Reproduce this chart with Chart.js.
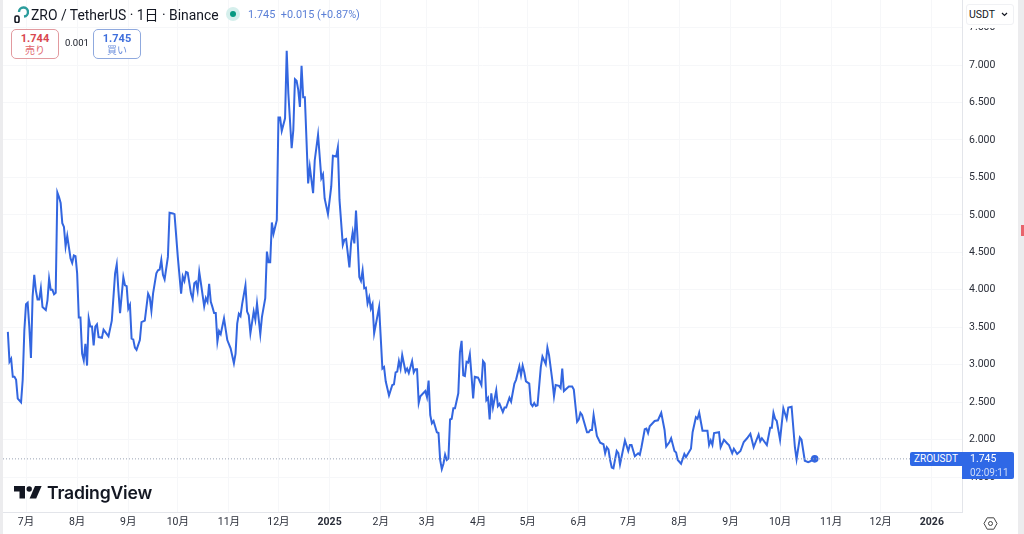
<!DOCTYPE html>
<html lang="ja">
<head>
<meta charset="utf-8">
<title>ZRO / TetherUS</title>
<script src="https://cdn.jsdelivr.net/npm/chart.js@4"></script>
<style>
  html, body { margin: 0; padding: 0; background: #fff; }
  body { width: 1024px; height: 534px; overflow: hidden; position: relative; font-family: Roboto, "Noto Sans CJK JP", sans-serif; color: #131722; }
  canvas { position: absolute; left: 0; top: 0; }
  .abs { position: absolute; white-space: nowrap; }
  .strip { position: absolute; top: 0; bottom: 0; background: #ececee; }
  .quote { position: absolute; top: 29px; width: 46px; height: 26px; padding-top: 2px; background: #fff; border: 1px solid; border-radius: 5px; text-align: center; font-size: 10px; line-height: 12px; }
  .quote b { display: block; font-size: 11px; line-height: 13px; font-weight: 700; }
</style>
</head>
<body>
<canvas id="priceChart" width="1024" height="534"></canvas>

<div class="strip" style="left:0;width:3px"></div>
<div class="strip" style="left:1018px;width:6px"></div>
<div class="abs" style="left:1021px;top:225px;width:3px;height:11px;background:#e8636b"></div>

<!-- header -->
<svg class="abs" style="left:13px;top:6px" width="16" height="17" viewBox="0 0 16 17">
  <path d="M6 6 A4.5 4.5 0 1 1 11 10.5" fill="none" stroke="#2b9c9c" stroke-width="2.4"/>
  <rect x="2" y="10" width="4" height="6.5" rx="1.6" fill="none" stroke="#131722" stroke-width="1.6"/>
</svg>
<div class="abs" style="left:31px;top:7px;font-size:13.9px;line-height:16px">ZRO / TetherUS · 1日 · Binance</div>
<div class="abs" style="left:226px;top:7px;width:14px;height:14px;border-radius:50%;background:#d5efec"></div>
<div class="abs" style="left:230px;top:11px;width:6px;height:6px;border-radius:50%;background:#089981"></div>
<div class="abs" style="left:248px;top:8px;font-size:10.9px;line-height:14px;color:#5a7fd6">1.745&nbsp; +0.015 (+0.87%)</div>

<div class="quote" style="left:11px;border-color:#e29a9f;color:#e0666d"><b style="color:#d9474f">1.744</b>売り</div>
<div class="abs" style="left:65px;top:37px;font-size:9.5px;line-height:12px">0.001</div>
<div class="quote" style="left:93px;border-color:#8fa9de;color:#6c8fdc"><b style="color:#3f6fdc">1.745</b>買い</div>

<!-- currency box sits over the clipped top tick -->
<div class="abs" style="left:963px;top:0;width:55px;height:28px;background:#fff"></div>
<div class="abs" style="left:966px;top:4px;width:48px;height:21px;box-sizing:border-box;border:1px solid #f0f1f4;border-radius:3px;font-size:10.5px;line-height:19px;padding-left:2px">USDT
  <svg style="position:absolute;right:5px;top:7px" width="7" height="5" viewBox="0 0 7 5"><path d="M1 1 L3.5 3.5 L6 1" fill="none" stroke="#131722" stroke-width="1.2"/></svg>
</div>

<!-- last price labels -->
<div class="abs" style="left:910px;top:452px;width:52px;height:14px;background:#2f68e6;border-radius:2px 0 0 2px;color:#fff;font-size:10px;line-height:14px;text-align:center">ZROUSDT</div>
<div class="abs" style="left:962px;top:452px;width:52px;height:27px;background:#2f68e6;border-radius:0 2px 2px 0;color:#fff;font-size:10.5px;line-height:13.5px;padding-left:8px;box-sizing:border-box">1.745<br><span style="color:#cfdcf8;font-size:10px">02:09:11</span></div>

<!-- logo -->
<svg class="abs" style="left:14px;top:486px" width="28" height="13" viewBox="0 0 28 13">
  <path d="M0 0 H11 V12.5 H5.5 V5.5 H0 Z" fill="#131722"/>
  <circle cx="15.2" cy="3" r="2.7" fill="#131722"/>
  <path d="M21 0 H27.6 L22.2 12.5 H15.6 Z" fill="#131722"/>
</svg>
<div class="abs" style="left:47px;top:482px;font-family:Inter,Roboto,sans-serif;font-size:17.6px;line-height:22px;font-weight:600;letter-spacing:-.2px;color:#131722">TradingView</div>

<!-- settings gear -->
<svg class="abs" style="left:983px;top:516px" width="15" height="15" viewBox="0 0 15 15">
  <path d="M4.2 1.8 H10.8 L14 7.5 L10.8 13.2 H4.2 L1 7.5 Z" fill="none" stroke="#444" stroke-width="1"/>
  <circle cx="7.5" cy="7.5" r="2" fill="none" stroke="#444" stroke-width="1"/>
</svg>

<script>
// day offsets from 2024-07-01
const days = [
  -11, -10, -9, -8, -7, -6, -5, -3, -2, -1, 0, 1, 2, 3, 4, 5, 6, 7, 8, 9, 10, 12, 13, 14, 15, 16, 17, 18, 19, 20,
  21, 22, 23, 24, 25, 26, 27, 28, 29, 30, 31, 32, 33, 34, 35, 36, 37, 38, 39, 40, 41, 42, 43, 44, 46, 47, 48, 50, 52, 54,
  55, 56, 57, 59, 60, 61, 62, 63, 64, 65, 66, 67, 69, 70, 72, 73, 74, 75, 76, 77, 79, 80, 81, 82, 83, 84, 86, 87, 89, 90,
  92, 94, 95, 96, 97, 98, 100, 101, 102, 103, 104, 105, 106, 108, 109, 110, 111, 112, 113, 114, 115, 116, 117, 118, 120, 122, 124, 126, 127, 128,
  129, 130, 131, 133, 134, 135, 136, 138, 139, 140, 142, 143, 145, 146, 147, 148, 149, 150, 152, 153, 154, 155, 157, 158, 159, 161, 162, 163, 164, 165,
  166, 167, 168, 169, 171, 172, 174, 175, 177, 179, 180, 181, 183, 185, 186, 188, 189, 190, 192, 193, 194, 196, 197, 198, 199, 200, 201, 202, 203, 204,
  205, 206, 207, 208, 209, 210, 211, 214, 216, 217, 218, 220, 222, 223, 224, 225, 226, 227, 228, 230, 231, 232, 234, 235, 236, 237, 238, 239, 242, 243,
  244, 245, 246, 247, 249, 250, 251, 252, 253, 254, 255, 256, 257, 258, 259, 260, 262, 263, 264, 265, 266, 267, 268, 269, 270, 271, 272, 274, 276, 277,
  278, 279, 280, 281, 282, 283, 285, 286, 287, 289, 290, 291, 293, 294, 296, 297, 299, 300, 301, 302, 303, 305, 306, 307, 308, 309, 310, 312, 313, 315,
  316, 317, 319, 320, 321, 323, 324, 325, 326, 329, 331, 332, 334, 335, 336, 337, 340, 341, 342, 343, 344, 346, 348, 350, 351, 352, 353, 354, 355, 356,
  358, 359, 360, 363, 365, 366, 367, 369, 371, 372, 373, 375, 376, 377, 378, 381, 383, 385, 387, 388, 390, 391, 393, 394, 395, 397, 399, 400, 403, 404,
  406, 407, 408, 410, 413, 414, 415, 416, 417, 420, 421, 423, 425, 426, 428, 429, 431, 433, 435, 437, 439, 441, 444, 445, 446, 449, 451, 452, 453, 454,
  455, 457, 459, 461, 462, 464, 466, 467, 469, 470, 472, 474, 475, 478
];
const prices = [
  3.44, 3.04, 3.08, 2.84, 2.84, 2.80, 2.55, 2.50, 2.80, 3.46, 3.81, 3.83, 3.51, 3.09, 3.91, 4.20, 3.99, 3.87, 3.87, 4.02, 3.77, 3.73, 3.86, 4.15, 4.00, 4.00, 3.94, 3.96, 5.30, 5.24,
  5.16, 4.89, 4.84, 4.58, 4.72, 4.57, 4.42, 4.36, 4.46, 4.45, 4.22, 3.63, 3.63, 3.15, 3.06, 3.28, 2.99, 3.62, 3.51, 3.51, 3.26, 3.51, 3.54, 3.37, 3.36, 3.47, 3.44, 3.38, 3.59, 4.22,
  4.34, 3.99, 3.69, 4.17, 4.06, 4.05, 3.75, 3.80, 3.35, 3.34, 3.23, 3.20, 3.33, 3.57, 3.59, 3.77, 3.95, 3.90, 3.72, 3.95, 4.22, 4.26, 4.27, 4.40, 4.20, 4.14, 4.44, 5.03, 5.02, 5.01,
  4.44, 3.95, 4.18, 4.12, 4.24, 4.23, 3.95, 3.88, 4.09, 4.11, 3.99, 4.24, 4.09, 3.78, 3.89, 3.84, 4.08, 3.84, 3.77, 3.69, 3.69, 3.31, 3.45, 3.41, 3.62, 3.33, 3.22, 3.02, 3.15, 3.55,
  3.68, 3.65, 3.81, 4.06, 3.71, 3.66, 3.42, 3.71, 3.60, 3.82, 3.41, 3.64, 3.89, 4.51, 4.37, 4.37, 4.90, 4.75, 4.93, 6.30, 6.30, 6.12, 6.29, 7.19, 6.62, 5.89, 6.13, 6.81, 6.79, 6.67,
  6.44, 6.99, 6.57, 6.57, 5.42, 5.64, 5.29, 5.73, 6.07, 5.49, 5.54, 5.22, 5.01, 5.38, 5.79, 5.78, 5.90, 5.20, 4.60, 4.67, 4.68, 4.30, 4.62, 4.77, 4.62, 5.06, 4.66, 4.17, 4.12, 4.26,
  4.02, 4.03, 3.82, 3.90, 3.75, 3.81, 3.42, 3.77, 2.95, 2.97, 2.78, 2.59, 2.73, 2.74, 2.90, 2.91, 3.05, 2.95, 3.13, 2.91, 2.95, 2.89, 3.05, 2.90, 2.94, 2.94, 2.49, 2.58, 2.65, 2.57,
  2.79, 2.33, 2.22, 2.25, 2.10, 2.09, 1.73, 1.61, 1.68, 1.80, 1.73, 1.75, 2.27, 2.28, 2.42, 2.42, 2.62, 3.17, 3.32, 2.86, 2.85, 3.04, 3.03, 3.14, 2.86, 2.55, 2.84, 2.83, 2.73, 3.05,
  3.02, 2.53, 2.56, 2.27, 2.62, 2.43, 2.66, 2.45, 2.48, 2.37, 2.43, 2.43, 2.56, 2.51, 2.75, 2.80, 2.98, 2.86, 2.99, 2.90, 2.78, 2.75, 2.48, 2.45, 2.49, 2.45, 2.46, 2.97, 3.11, 3.01,
  3.23, 3.13, 2.79, 2.58, 2.73, 2.72, 2.69, 2.95, 2.65, 2.71, 2.71, 2.67, 2.24, 2.27, 2.36, 2.33, 2.10, 2.10, 2.13, 2.13, 2.33, 2.05, 1.96, 1.94, 1.82, 1.90, 1.87, 1.73, 1.63, 1.62,
  1.85, 1.82, 1.67, 1.99, 1.85, 1.93, 1.93, 1.78, 1.82, 1.80, 1.90, 2.14, 2.15, 2.09, 2.18, 2.25, 2.26, 2.36, 2.13, 1.91, 1.97, 2.02, 1.85, 1.83, 1.73, 1.68, 1.81, 1.77, 1.88, 2.10,
  2.30, 2.28, 2.36, 2.12, 2.12, 1.93, 1.99, 1.93, 2.09, 2.10, 1.90, 2.00, 1.95, 1.93, 1.82, 1.88, 1.81, 1.85, 1.97, 2.02, 2.08, 1.90, 2.07, 1.98, 2.02, 1.93, 2.16, 2.16, 2.36, 2.28,
  2.25, 2.00, 2.42, 2.28, 2.43, 2.44, 1.90, 1.74, 2.03, 2.00, 1.72, 1.70, 1.71, 1.745
];

const lastPrice = 1.745;
const monthDays = [0, 31, 62, 92, 123, 153, 184, 215, 243, 274, 304, 335, 365, 396, 427, 457, 488, 518, 549];
const monthLabels = ['7月', '8月', '9月', '10月', '11月', '12月', '2025', '2月', '3月', '4月', '5月', '6月', '7月', '8月', '9月', '10月', '11月', '12月', '2026'];
const priceTicks = [1.5, 2, 2.5, 3, 3.5, 4, 4.5, 5, 5.5, 6, 6.5, 7, 7.5];

const dayMin = -13.94, dayMax = 567.27;
const gridColor = '#f6f7f9';

// stop Chart.js reserving room for the outer tick labels
function noLabelPadding(axis) {
    axis.paddingTop = 0;
    axis.paddingBottom = 0;
    axis.paddingLeft = 0;
    axis.paddingRight = 0;
}

new Chart(document.getElementById('priceChart'), {
    type: 'line',
    data: {
        datasets: [
            {
                data: [{ x: dayMin, y: lastPrice }, { x: dayMax, y: lastPrice }],
                borderColor: '#9aa3b5',
                borderWidth: 1,
                borderDash: [1, 2],
                pointRadius: 0
            },
            {
                data: days.map((d, i) => ({ x: d, y: prices[i] })),
                borderColor: '#3366e0',
                backgroundColor: '#3366e0',
                borderWidth: 2,
                tension: 0,
                pointRadius: ctx => ctx.dataIndex === days.length - 1 ? 2.8 : 0
            }
        ]
    },
    options: {
        responsive: false,
        animation: false,
        layout: { autoPadding: false, padding: { left: 3, top: 0, right: 0, bottom: 0 } },
        plugins: { legend: { display: false }, tooltip: { enabled: false } },
        scales: {
            x: {
                type: 'linear',
                min: dayMin,
                max: dayMax,
                afterBuildTicks: axis => { axis.ticks = monthDays.map(v => ({ value: v })); },
                afterFit: axis => { axis.height = 22; noLabelPadding(axis); },
                grid: { color: gridColor, drawTicks: false },
                border: { color: '#e3e5ea' },
                ticks: {
                    autoSkip: false,
                    maxRotation: 0,
                    padding: 4,
                    color: '#2a2e39',
                    callback: (v, i) => monthLabels[i],
                    font: ctx => {
                        const bold = monthLabels[ctx.index] && monthLabels[ctx.index].length === 4;
                        return { family: 'Roboto, "Noto Sans CJK JP", sans-serif', size: 10.5, weight: bold ? '700' : '400' };
                    }
                }
            },
            y: {
                position: 'right',
                min: 1.036,
                max: 7.868,
                afterBuildTicks: axis => { axis.ticks = priceTicks.map(v => ({ value: v })); },
                afterFit: axis => { axis.width = 62; noLabelPadding(axis); },
                grid: { color: gridColor, drawTicks: false },
                border: { color: '#e3e5ea' },
                ticks: {
                    padding: 7,
                    color: '#2a2e39',
                    callback: v => v.toFixed(3),
                    font: { family: 'Roboto, sans-serif', size: 10.5 }
                }
            }
        }
    }
});
</script>
</body>
</html>
